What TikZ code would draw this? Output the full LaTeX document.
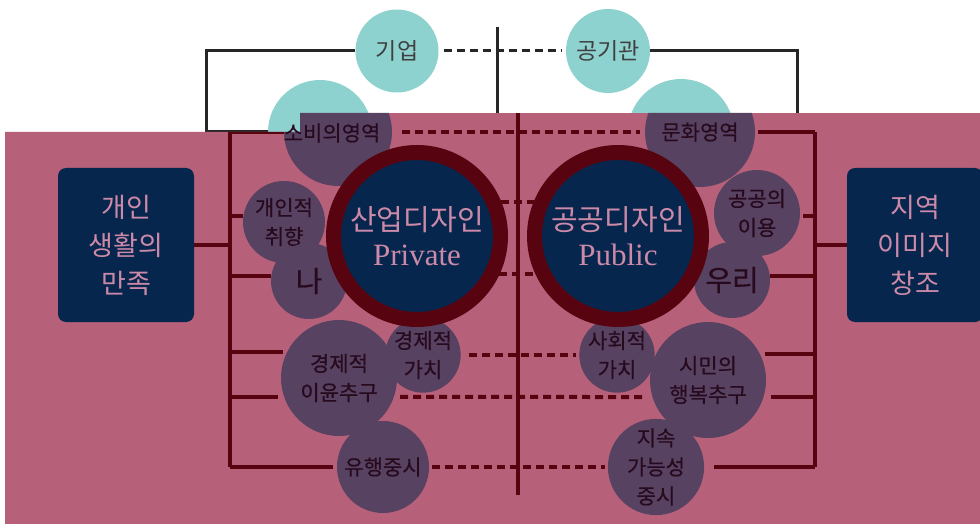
\documentclass[tikz,border=0pt]{standalone}
\usepackage{fontspec}
\newfontfamily\kr{Noto Sans CJK KR}
\newfontfamily\krb[FakeBold=0.6]{Noto Sans CJK KR}
\newfontfamily\latin{Liberation Serif}
\usetikzlibrary{positioning}

\definecolor{bgpink}{RGB}{183,96,122}
\definecolor{ballpurple}{RGB}{88,66,98}
\definecolor{ringred}{RGB}{88,4,16}
\definecolor{deepnavy}{RGB}{6,38,78}
\definecolor{softpink}{RGB}{204,138,168}
\definecolor{balltext}{RGB}{40,10,30}
\definecolor{topteal}{RGB}{142,210,208}

\tikzset{
	topball/.style={circle,fill=topteal,inner sep=0pt,text=black!75,font=\kr\fontsize{23}{26}\selectfont},
	ball/.style={circle,fill=ballpurple,inner sep=0pt,align=center,text=balltext,font=\krb\fontsize{21}{29}\selectfont},
	bigball/.style={circle,fill=deepnavy,draw=ringred,line width=15pt,minimum size=167pt,inner sep=0pt,align=center,text=softpink,font=\kr\fontsize{29}{35}\selectfont},
	goal/.style={rectangle,rounded corners=8pt,fill=deepnavy,minimum width=136pt,minimum height=154pt,align=center,text=softpink,font=\kr\fontsize{27}{38}\selectfont},
	topline/.style={black!85,line width=3pt},
	topdash/.style={black!85,line width=3pt,dash pattern=on 8pt off 5pt},
	link/.style={ringred,line width=4pt},
	dashlink/.style={ringred,line width=4pt,dash pattern=on 8pt off 5pt}
}

\begin{document}
\begin{tikzpicture}[x=1pt,y=-1pt]
	\useasboundingbox (0,0) rectangle (980,524);
	\fill[white] (0,0) rectangle (980,524);

	\node[topball,minimum size=83pt]	(giup)		at (397,51)	{기업};
	\node[topball,minimum size=84pt]	(gonggi)	at (608,51)	{공기관};
	\node[topball,minimum size=104pt]	(sobitop)	at (320,132)	{};
	\node[topball,minimum size=106pt]	(munhwatop)	at (681,132)	{};
	\coordinate (axistop) at (497,27);
	\coordinate (axisend) at (497,113);

	\draw[topline] (giup.west) -- ++(-149,0) |- (sobitop.west);
	\draw[topline] (gonggi.east) -- ++(147,0) |- (munhwatop.east);
	\draw[topdash,shorten <=5pt,shorten >=5pt] (giup) -- (gonggi);
	\draw[topline] (axistop) -- (axisend);

	\begin{scope}
		\clip (5,132) -- (300,132) -- (300,113) -- (980,113) -- (980,524) -- (5,524) -- cycle;
		\fill[bgpink] (5,113) rectangle (980,524);

		\node[goal]	(self)		at (126,245)	{개인\\생활의\\만족};
		\node[goal]	(region)	at (915,245)	{지역\\이미지\\창조};

		\node[ball,minimum size=108pt]	(sobi)		at (338,132)	{};
		\node[ball,minimum size=82pt]	(taste)		at (284,222)	{개인적\\취향};
		\node[ball,minimum size=76pt,font=\krb\fontsize{29}{30}\selectfont]	(me)	at (309,281)	{나};
		\node[ball,minimum size=116pt]	(profit)	at (339,378)	{경제적\\이윤추구};
		\node[ball,minimum size=70pt]	(econ)		at (423,355)	{경제적\\가치};
		\node[ball,minimum size=92pt]	(trend)		at (383,467)	{유행중시};

		\node[ball,minimum size=110pt]	(culture)	at (700,132)	{문화영역};
		\node[ball,minimum size=86pt]	(common)	at (757,213)	{공공의\\이용};
		\node[ball,minimum size=76pt,font=\krb\fontsize{29}{30}\selectfont]	(us)	at (732,280)	{우리};
		\node[ball,minimum size=116pt]	(happy)		at (708,380)	{시민의\\행복추구};
		\node[ball,minimum size=70pt]	(social)	at (617,355)	{사회적\\가치};
		\node[ball,minimum size=92pt]	(green)		at (656,467)	{지속\\가능성\\중시};

		\node[bigball]	(private)	at (417,236)	{산업디자인\\{\latin\fontsize{31}{35}\selectfont Private}};
		\node[bigball]	(public)	at (618,236)	{공공디자인\\{\latin\fontsize{31}{35}\selectfont Public}};

		\coordinate (lefttop)	at (230,132);
		\coordinate (leftend)	at (230,467);
		\coordinate (righttop)	at (815,132);
		\coordinate (rightend)	at (815,467);
		\coordinate (midtop)	at (518,113);
		\coordinate (midend)	at (518,495);

		\draw[link] (lefttop) -- (leftend);
		\draw[link] (lefttop) -- (sobi.west);
		\draw[link] (lefttop |- taste.172) -- (taste.172);
		\draw[link] (lefttop |- me.172) -- (me.172);
		\draw[link,shorten >=4pt] (lefttop |- profit.153) -- (profit.153);
		\draw[link,shorten >=6pt] (lefttop |- profit.199) -- (profit.199);
		\draw[link,shorten >=4pt] (leftend) -- (trend.west);
		\draw[link] (self.east) -- (lefttop |- self.east);

		\draw[link] (righttop) -- (rightend);
		\draw[link,shorten <=3pt] (culture.east) -- (righttop);
		\draw[link,shorten <=3pt] (common.-4) -- (righttop |- common.-4);
		\draw[link] (us.6) -- (righttop |- us.6);
		\draw[link,shorten <=5pt] (happy.27) -- (righttop |- happy.27);
		\draw[link,shorten <=7pt] (happy.-17) -- (righttop |- happy.-17);
		\draw[link,shorten <=10pt] (green.east) -- (rightend);
		\draw[link] (region.west) -- (righttop |- region.west);

		\draw[link] (midtop) -- (midend);

		\draw[dashlink,shorten <=10pt,shorten >=5pt] (sobi) -- (culture);
		\draw[dashlink] (private.22) -- (public.158);
		\draw[dashlink] (private.-25) -- (public.205);
		\draw[dashlink,shorten <=8pt,shorten >=3pt] (econ) -- (social);
		\draw[dashlink,shorten <=6pt,shorten >=6pt] (profit.-19) -- (happy.197);
		\draw[dashlink,shorten <=3pt,shorten >=3pt] (trend) -- (green);
	\end{scope}

	\node[ball,fill=none]	(sobilabel)	at (332,133)	{소비의영역};
\end{tikzpicture}
\end{document}
